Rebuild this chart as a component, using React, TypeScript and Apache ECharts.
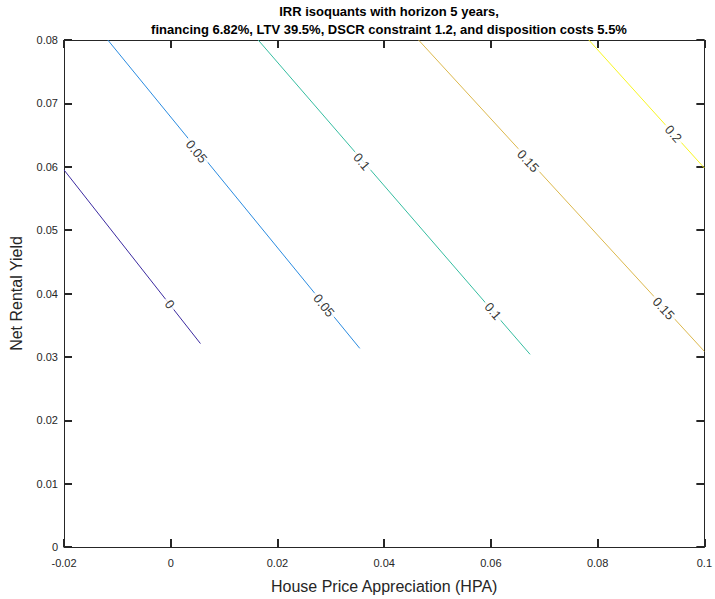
import React, { useEffect, useRef } from "react";
import * as echarts from "echarts";

// IRR contour levels and line endpoints [x, y]
const levels = ["0", "0.05", "0.1", "0.15", "0.2"];
const colors = ["#3b2aa0", "#2a8be0", "#35bda0", "#dcb84c", "#f7f520"];
const lineStarts: number[][] = [
  [-0.02, 0.0595],
  [-0.01179, 0.08],
  [0.01639, 0.08],
  [0.04644, 0.08],
  [0.07835, 0.08],
];
const lineEnds: number[][] = [
  [0.00557, 0.0321],
  [0.03543, 0.03134],
  [0.06734, 0.0304],
  [0.1, 0.03087],
  [0.1, 0.0598],
];
// label positions per level
const labelPoints: number[][][] = [
  [[-0.0002, 0.0383]],
  [
    [0.00482, 0.0624],
    [0.0287, 0.0381],
  ],
  [
    [0.0358, 0.0608],
    [0.0604, 0.0372],
  ],
  [
    [0.06697, 0.0609],
    [0.09235, 0.03764],
  ],
  [[0.09421, 0.0652]],
];

const titleLines = [
  "IRR isoquants with horizon 5 years,",
  "financing 6.82%, LTV 39.5%, DSCR constraint 1.2, and disposition costs 5.5%",
];

const FONT = "'Liberation Sans', Arial, Helvetica, sans-serif";
const AX = "#262626";

export default function App() {
  const ref = useRef<HTMLDivElement>(null);
  useEffect(() => {
    if (!ref.current) return;
    const chart = echarts.init(ref.current, null, { renderer: "svg" });
    const buildSeries = (rots: number[]) => {
      const s: any[] = [];
      levels.forEach((lv, i) => {
        s.push({
          type: "line",
          data: [lineStarts[i], lineEnds[i]],
          symbol: "none",
          lineStyle: { color: colors[i], width: 1 },
          z: 2,
          silent: true,
        });
      });
      levels.forEach((lv, i) => {
        s.push({
          type: "scatter",
          data: labelPoints[i],
          symbolSize: 0,
          z: 5,
          silent: true,
          label: {
            show: true,
            position: "inside",
            formatter: lv,
            rotate: rots[i],
            color: "#000",
            fontSize: 13,
            fontFamily: FONT,
            backgroundColor: "#fff",
            padding: [0, 3],
          },
        });
      });
      return s;
    };
    const mkLine = () => ({ show: true, onZero: false, lineStyle: { color: AX, width: 1 } });
    const mkTick = () => ({ show: true, inside: true, length: 8, lineStyle: { color: AX, width: 2 } });
    const option: any = {
      animation: false,
      backgroundColor: "#fff",
      title: {
        text: titleLines.join("\n"),
        left: 384,
        textAlign: "center",
        top: -3,
        textStyle: {
          fontFamily: FONT,
          fontSize: 13,
          fontWeight: "bold",
          color: "#000",
          lineHeight: 18,
        },
      },
      grid: { left: 63, right: 9, top: 40, bottom: 51, containLabel: false },
      xAxis: [
        {
          type: "value",
          min: -0.02,
          max: 0.1,
          interval: 0.02,
          position: "bottom",
          name: "House Price Appreciation (HPA)",
          nameLocation: "middle",
          nameGap: 31,
          nameTextStyle: { fontFamily: FONT, fontSize: 16, color: AX },
          axisLabel: { fontFamily: FONT, fontSize: 11, color: AX, margin: 10 },
          axisLine: mkLine(),
          axisTick: mkTick(),
          splitLine: { show: false },
        },
        {
          type: "value",
          min: -0.02,
          max: 0.1,
          interval: 0.02,
          position: "top",
          axisLabel: { show: false },
          axisLine: mkLine(),
          axisTick: mkTick(),
          splitLine: { show: false },
        },
      ],
      yAxis: [
        {
          type: "value",
          min: 0,
          max: 0.08,
          interval: 0.01,
          position: "left",
          name: "Net Rental Yield",
          nameLocation: "middle",
          nameGap: 40,
          nameTextStyle: { fontFamily: FONT, fontSize: 16, color: AX },
          axisLabel: { fontFamily: FONT, fontSize: 11, color: AX, margin: 6 },
          axisLine: mkLine(),
          axisTick: mkTick(),
          splitLine: { show: false },
        },
        {
          type: "value",
          min: 0,
          max: 0.08,
          interval: 0.01,
          position: "right",
          axisLabel: { show: false },
          axisLine: mkLine(),
          axisTick: mkTick(),
          splitLine: { show: false },
        },
      ],
      series: buildSeries(levels.map(() => -50)),
    };
    chart.setOption(option);
    const rots = levels.map((_, i) => {
      const a = chart.convertToPixel({ gridIndex: 0 }, lineStarts[i]) as number[];
      const b = chart.convertToPixel({ gridIndex: 0 }, lineEnds[i]) as number[];
      const ang = (Math.atan2(b[1] - a[1], b[0] - a[0]) * 180) / Math.PI;
      return -ang;
    });
    chart.setOption({ series: buildSeries(rots) });
    return () => chart.dispose();
  }, []);
  return (
    <div
      ref={ref}
      style={{ position: "absolute", left: 0, top: 0, width: 715, height: 599 }}
    />
  );
}
